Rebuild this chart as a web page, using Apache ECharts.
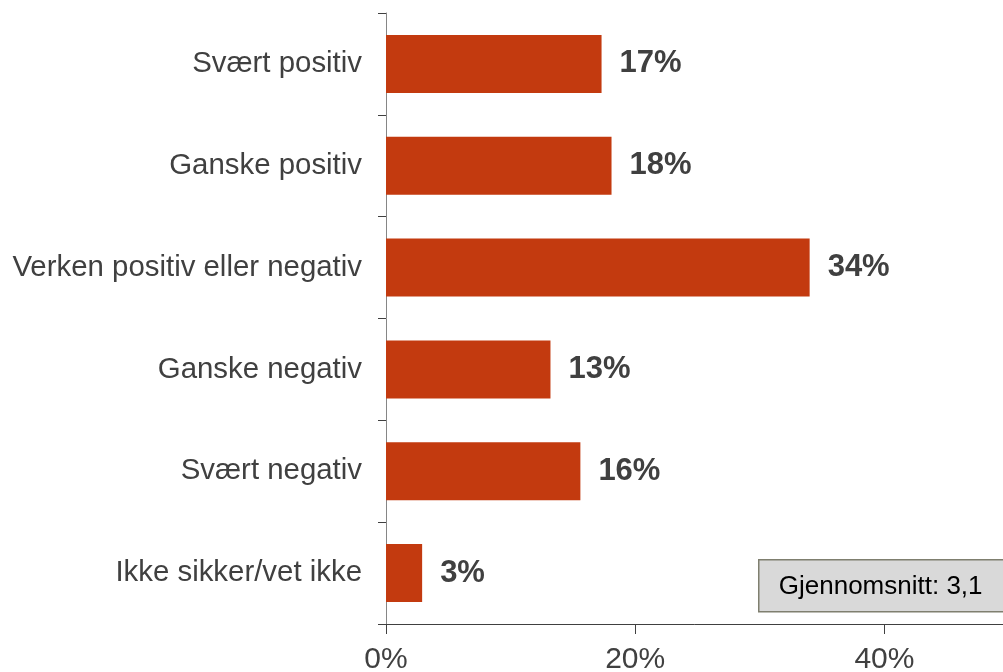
<!DOCTYPE html>
<html><head><meta charset="utf-8">
<script src="https://cdn.jsdelivr.net/npm/echarts@6/dist/echarts.min.js"></script>
<style>html,body{margin:0;padding:0;background:#fff}#c{width:1003px;height:672px}</style>
</head><body><div id="c"></div>
<script>
var categories = ["Svært positiv", "Ganske positiv", "Verken positiv eller negativ", "Ganske negativ", "Svært negativ", "Ikke sikker/vet ikke"];
var values = [17.3, 18.1, 34.0, 13.2, 15.6, 2.9];
var valueLabels = ["17%", "18%", "34%", "13%", "16%", "3%"];
var xTicks = [0, 20, 40];
var averageText = "Gjennomsnitt: 3,1";

var FONT = 'Liberation Sans, Arial, sans-serif';
var chart = echarts.init(document.getElementById('c'), null, {renderer: 'canvas'});
chart.setOption({
  animation: false,
  backgroundColor: '#ffffff',
  grid: {left: 386, top: 13, width: 623, height: 611, containLabel: false, outerBoundsMode: 'none'},
  xAxis: {
    type: 'value', min: 0, max: 50, interval: 20,
    splitLine: {show: false},
    axisLine: {show: true, lineStyle: {color: '#404040', width: 1}},
    axisTick: {show: true, length: 10, customValues: xTicks, lineStyle: {color: '#404040'}},
    axisLabel: {
      margin: 21, color: '#404040', fontSize: 30, fontFamily: FONT,
      customValues: xTicks,
      formatter: function (v) { return xTicks.indexOf(v) >= 0 ? v + '%' : ''; }
    }
  },
  yAxis: {
    type: 'category', data: categories, inverse: true,
    axisLine: {show: true, lineStyle: {color: '#868686', width: 1}},
    axisTick: {show: true, length: 8, lineStyle: {color: '#404040'}},
    axisLabel: {margin: 24, color: '#404040', fontSize: 29.4, fontFamily: FONT}
  },
  series: [{
    type: 'bar', data: values, barWidth: 58,
    itemStyle: {color: '#C33A0F'},
    label: {
      show: true, position: 'right', distance: 18,
      color: '#404040', fontSize: 31, fontWeight: 'bold', fontFamily: FONT,
      formatter: function (p) { return valueLabels[p.dataIndex]; }
    }
  }],
  graphic: [{
    type: 'group', left: 758, top: 559,
    children: [
      {type: 'rect', shape: {x: 0, y: 0, width: 252, height: 52},
       style: {fill: '#d9d9d9', stroke: '#7f7f6f', lineWidth: 1.5}},
      {type: 'text', x: 20, y: 27,
       style: {text: averageText, fill: '#000', fontSize: 26, fontFamily: FONT, align: 'left', verticalAlign: 'middle'}}
    ]
  }]
});
</script></body></html>
